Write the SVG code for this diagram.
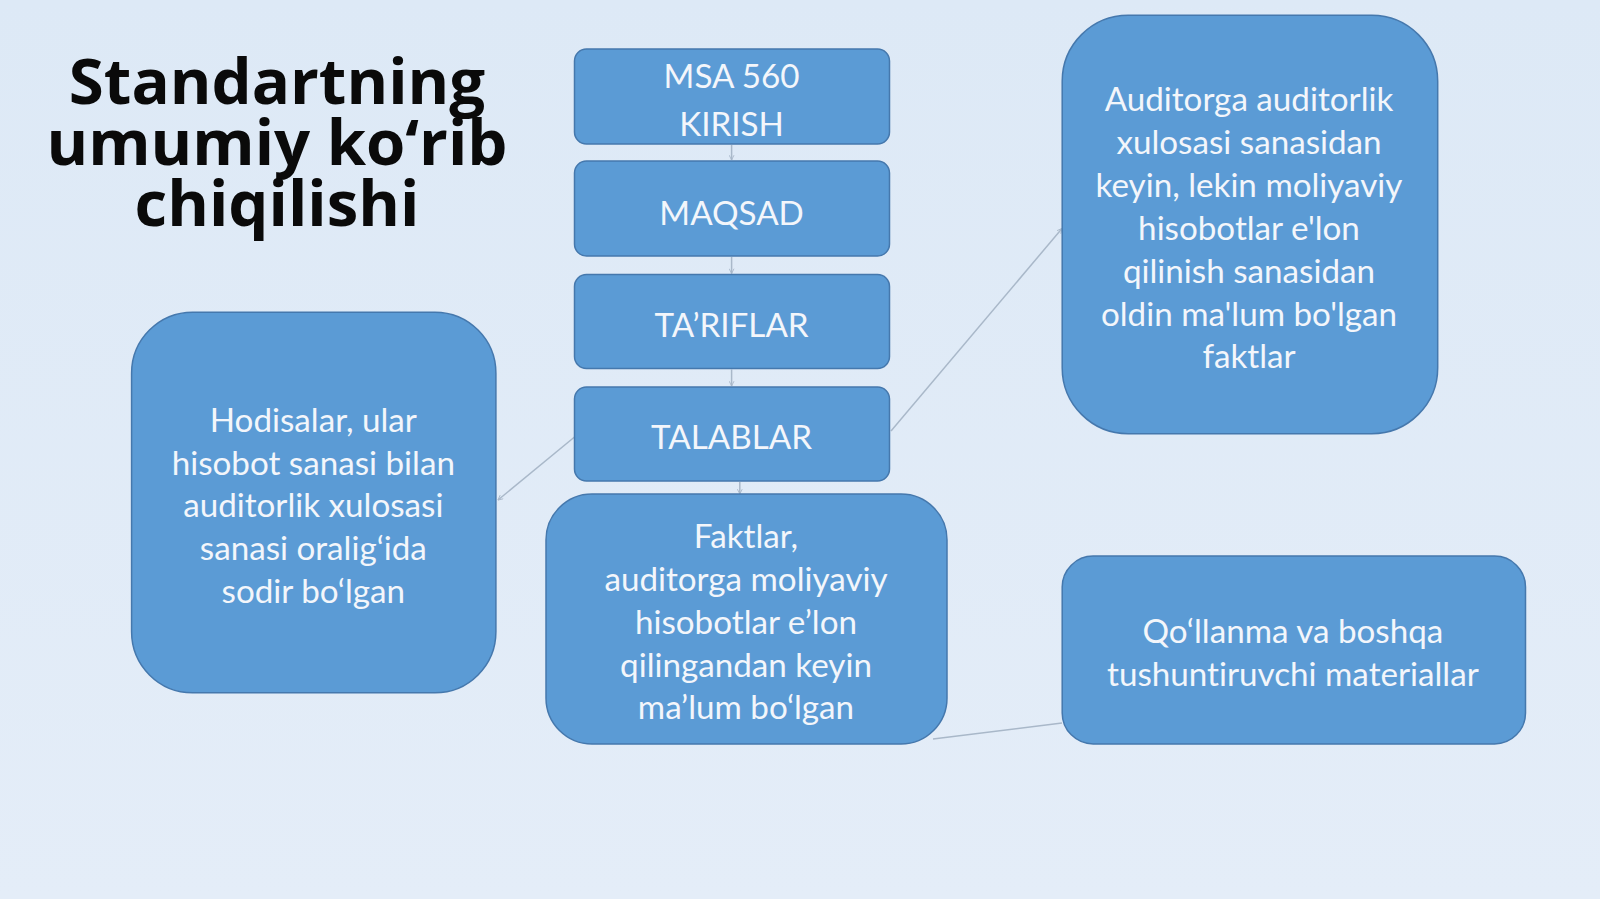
<svg xmlns="http://www.w3.org/2000/svg" width="1600" height="899" viewBox="0 0 1600 899">
<defs>
<linearGradient id="bg" x1="0" y1="0" x2="0" y2="1">
<stop offset="0" stop-color="#dde9f6"/>
<stop offset="1" stop-color="#e4edf8"/>
</linearGradient>
<marker id="arr" viewBox="0 0 10 10" refX="9" refY="5" markerWidth="6" markerHeight="6" orient="auto-start-reverse" markerUnits="userSpaceOnUse">
<path d="M1,1 L9,5 L1,9" fill="none" stroke="#a9b8c9" stroke-width="1.5"/>
</marker>
</defs>
<style>
.box{fill:#5b9bd5;stroke:#4578ad;stroke-width:1.5}
.t{font-family:Lato,"Open Sans","Liberation Sans",sans-serif;font-size:33.2px;fill:#f3f6fb;text-anchor:middle;font-variant-ligatures:none}
.title{font-family:"Open Sans","Noto Sans","Liberation Sans",sans-serif;font-weight:bold;font-size:63.5px;fill:#0a0a0a;text-anchor:middle}
.c{stroke:#a9b8c9;stroke-width:1.5;fill:none}
</style>
<rect width="1600" height="899" fill="url(#bg)"/>
<g id="title">
<text class="title" x="277" y="104">Standartning</text>
<text class="title" x="277" y="165">umumiy ko‘rib</text>
<text class="title" x="277" y="226">chiqilishi</text>
</g>
<g id="connectors">
<line class="c" x1="731.6" y1="145" x2="731.6" y2="160" marker-end="url(#arr)"/>
<line class="c" x1="731.6" y1="257" x2="731.6" y2="273.5" marker-end="url(#arr)"/>
<line class="c" x1="731.6" y1="369.5" x2="731.6" y2="386" marker-end="url(#arr)"/>
<line class="c" x1="739.8" y1="482" x2="739.8" y2="494" marker-end="url(#arr)"/>
<line class="c" x1="891" y1="431" x2="1062" y2="228.5" marker-end="url(#arr)"/>
<line class="c" x1="574.5" y1="437" x2="498" y2="500" marker-end="url(#arr)"/>
<line class="c" x1="933" y1="739" x2="1062" y2="723"/>
</g>
<g id="n-kirish">
<rect class="box" x="574.5" y="49" width="315" height="95" rx="12"/>
<text class="t" x="731.6" y="87.8">MSA 560</text>
<text class="t" x="731.6" y="135.7">KIRISH</text>
</g>
<g id="n-maqsad">
<rect class="box" x="574.5" y="161" width="315" height="95" rx="12"/>
<text class="t" x="731.6" y="224.5">MAQSAD</text>
</g>
<g id="n-tariflar">
<rect class="box" x="574.5" y="274.5" width="315" height="94" rx="12"/>
<text class="t" x="731.6" y="336.7">TA’RIFLAR</text>
</g>
<g id="n-talablar">
<rect class="box" x="574.5" y="387" width="315" height="94" rx="12"/>
<text class="t" x="731.6" y="449">TALABLAR</text>
</g>
<g id="n-faktlar">
<rect class="box" x="546" y="494" width="401" height="250" rx="46"/>
<text class="t" x="746" y="548">Faktlar,</text>
<text class="t" x="746" y="590.9">auditorga moliyaviy</text>
<text class="t" x="746" y="633.7">hisobotlar e’lon</text>
<text class="t" x="746" y="676.6">qilingandan keyin</text>
<text class="t" x="746" y="719.4">ma’lum bo‘lgan</text>
</g>
<g id="n-hodisalar">
<rect class="box" x="131.6" y="312.2" width="364.3" height="380.6" rx="61"/>
<text class="t" x="313.3" y="431.6">Hodisalar, ular</text>
<text class="t" x="313.3" y="474.5">hisobot sanasi bilan</text>
<text class="t" x="313.3" y="517.3">auditorlik xulosasi</text>
<text class="t" x="313.3" y="560.2">sanasi oralig‘ida</text>
<text class="t" x="313.3" y="603">sodir bo‘lgan</text>
</g>
<g id="n-auditorga">
<rect class="box" x="1062.2" y="15.3" width="375.5" height="418.4" rx="66"/>
<text class="t" x="1249" y="111.2">Auditorga auditorlik</text>
<text class="t" x="1249" y="154.1">xulosasi sanasidan</text>
<text class="t" x="1249" y="196.9">keyin, lekin moliyaviy</text>
<text class="t" x="1249" y="239.8">hisobotlar e'lon</text>
<text class="t" x="1249" y="282.6">qilinish sanasidan</text>
<text class="t" x="1249" y="325.5">oldin ma'lum bo'lgan</text>
<text class="t" x="1249" y="368.3">faktlar</text>
</g>
<g id="n-qollanma">
<rect class="box" x="1062.2" y="556.1" width="463.3" height="187.8" rx="31"/>
<text class="t" x="1292.9" y="642.9">Qo‘llanma va boshqa</text>
<text class="t" x="1292.9" y="685.7">tushuntiruvchi materiallar</text>
</g>
</svg>
